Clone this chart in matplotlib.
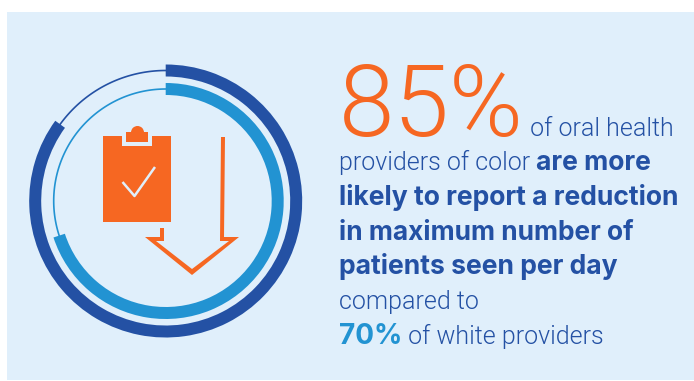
import matplotlib
matplotlib.use("Agg")
import matplotlib.pyplot as plt
import numpy as np
from matplotlib.patches import Rectangle, Polygon, Circle

W, H = 694, 381

ring_values = [85, 70]
ring_colors = ['#2451a4', '#2293d2']
ring_outer = [136.5, 118]

ORANGE = '#f66722'
DARK = '#2451a4'
BLUE = '#2293d2'
BG = '#e0effb'
LIGHT_FONT = ['Roboto', 'DejaVu Sans']
BOLD_FONT = ['Inter', 'DejaVu Sans']

# baseline, runs of (text, colour, weight, size in px)
lines = [
    (136, [('85%', ORANGE, 300, 100), (' of oral health', DARK, 300, 25)]),
    (170, [('providers of color ', DARK, 300, 25), ('are more', DARK, 'bold', 26.5)]),
    (205, [('likely to report a reduction', DARK, 'bold', 26.5)]),
    (240, [('in maximum number of', DARK, 'bold', 26.3)]),
    (274, [('patients seen per day', DARK, 'bold', 26.5)]),
    (309, [('compared to', DARK, 300, 25)]),
    (344, [('70%', BLUE, 'bold', 28), (' of white providers', DARK, 300, 25)]),
]
TEXT_X = 339


def px(size):
    return size * 72 / 100


def family(weight):
    return BOLD_FONT if weight == 'bold' else LIGHT_FONT


def advance(s, weight, size, rend):
    # bars keep leading and trailing spaces in the measure
    a = ax.text(0, 0, '|' + s + '|', fontsize=px(size), fontweight=weight, family=family(weight))
    b = ax.text(0, 0, '||', fontsize=px(size), fontweight=weight, family=family(weight))
    w = a.get_window_extent(rend).width - b.get_window_extent(rend).width
    a.remove()
    b.remove()
    return w


fig = plt.figure(figsize=(W / 100, H / 100), dpi=100, facecolor='white')
ax = fig.add_axes([0, 0, 1, 1])
ax.set_xlim(0, W)
ax.set_ylim(H, 0)
ax.axis('off')
ax.add_patch(Rectangle((7, 12), W - 7, H - 12 - 1, fc=BG, ec='none'))

# clipboard
ax.add_patch(Rectangle((103, 136), 68, 86, fc=ORANGE, ec='none'))
ax.add_patch(Rectangle((122.5, 136), 29.5, 10, fc=BG, ec='none'))
ax.add_patch(Rectangle((126, 132), 22.5, 10, fc=ORANGE, ec='none'))
ax.add_patch(Circle((137.5, 132.5), 6.5, fc=ORANGE, ec='none'))
ax.plot([122.5, 134.5, 155], [182, 196, 167], color=BG, lw=1.8, solid_capstyle='butt')

# arrow
ax.add_patch(Polygon([(225, 137), (224, 237), (239, 237), (192, 275), (145, 237), (160, 237),
                      (160, 228), (164, 228), (164, 241), (156, 241), (192, 269), (229, 241),
                      (220, 241), (221, 137)],
                     closed=True, fc=ORANGE, ec='none'))

# rings
cx, cy, rmax = 165.7, 201, 140
pol = fig.add_axes([(cx - rmax) / W, 1 - (cy + rmax) / H, 2 * rmax / W, 2 * rmax / H],
                   projection='polar')
pol.set_theta_zero_location('N')
pol.set_theta_direction(-1)
pol.set_rlim(0, rmax)
pol.axis('off')
pol.patch.set_alpha(0)
for val, col, r in zip(ring_values, ring_colors, ring_outer):
    end = 2 * np.pi * val / 100
    pol.bar(0, 12, width=end, bottom=r - 12, align='edge', color=col, linewidth=0)
    th = np.linspace(end, 2 * np.pi, 100)
    pol.plot(th, np.full_like(th, r - 6), color=col, lw=1.2)

# text, one run after the other
fig.canvas.draw()
rend = fig.canvas.get_renderer()
for y, runs in lines:
    x = TEXT_X
    for s, col, weight, size in runs:
        ax.text(x, y, s, color=col, fontsize=px(size), fontweight=weight,
                family=family(weight), ha='left', va='baseline')
        x += advance(s, weight, size, rend)

fig.savefig('out.png', dpi=100)
